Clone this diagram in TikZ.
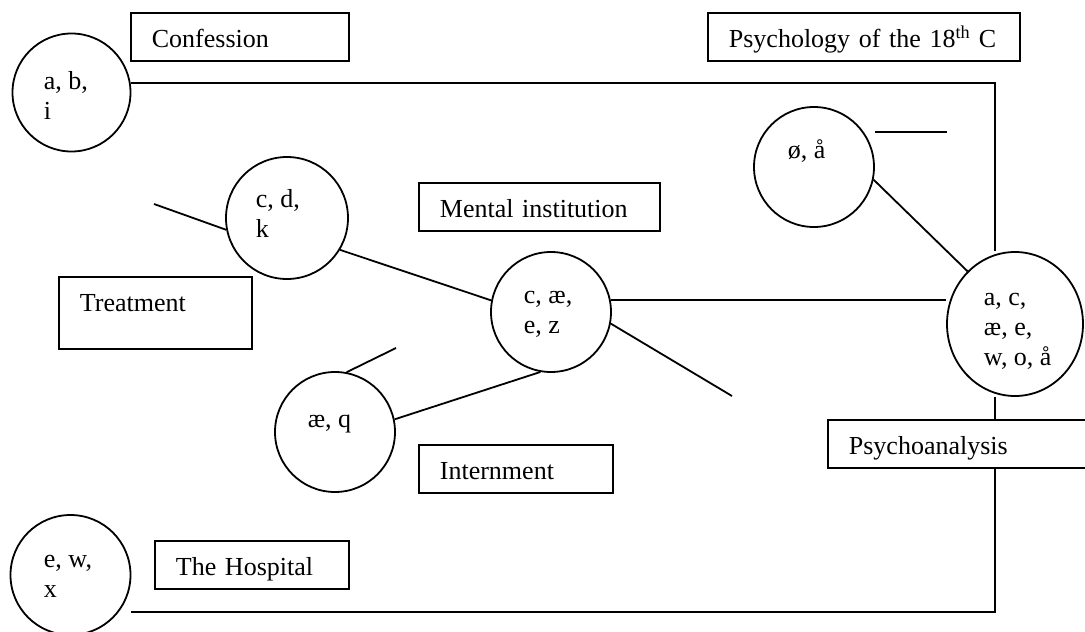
\documentclass[tikz,border=0pt]{standalone}
\usepackage{fontspec}
\setmainfont{Liberation Serif}
\usetikzlibrary{shapes.geometric,calc}
\begin{document}
\begin{tikzpicture}[x=1pt,y=-1pt,line width=1.8pt,
  bub/.style={circle,draw,inner sep=0pt,minimum size=#1},
  bub/.default=120pt,
  ctext/.style={anchor=base west,inner sep=0pt,align=left,font=\fontsize{26}{30}\selectfont},
  boxn/.style={draw,anchor=north west,inner xsep=21pt,inner ysep=0pt,
    text height=35pt,text depth=13pt,text width=#1,align=left,
    font=\fontsize{26}{30}\selectfont}]
\useasboundingbox (0,0) rectangle (1085,632);
\clip (0,0) rectangle (1085,632);
% circles
\node[bub=118pt] (abi) at (71.5,92.5) {};
\node[bub=122pt] (cdk) at (287,218) {};
\node[bub] (cae) at (551,312) {};
\node[bub] (oa) at (814,167) {};
\node[bub] (aeq) at (335,432) {};
\node[bub] (ewx) at (70.5,575) {};
\node[ellipse,draw,inner sep=0pt,minimum width=136pt,minimum height=144pt] (big) at (1015,324) {};
% circle texts (anchor = baseline of the last line)
\node[ctext] (abit) at (43,119) {a, b,\\i};
\node[ctext] (cdkt) at (255,237) {c, d,\\k};
\node[ctext] (caet) at (523,333) {c, æ,\\e, z};
\node[ctext] (oat) at (787,158) {ø, å};
\node[ctext] (aeqt) at (307,427) {æ, q};
\node[ctext] (ewxt) at (43,597) {e, w,\\x};
\node[ctext] (bigt) at (983,365) {a, c,\\æ, e,\\w, o, å};
% boxes
\node[boxn=176pt] (conf) at (130,12) {Confession};
\node[boxn=270pt] (psy) at (707,12) {Psychology of the 18\textsuperscript{th} C};
\node[boxn=199pt] (ment) at (418,182) {Mental institution};
\node[boxn=151pt,text depth=37pt] (treat) at (58,276) {Treatment};
\node[boxn=152pt] (intern) at (418,444) {Internment};
\node[boxn=152pt] (hosp) at (154,540) {The Hospital};
\node[boxn=221pt] (psa) at (827,419) {Psychoanalysis};
% free ends
\coordinate (cdkstub) at (154,204);
\coordinate (caestub) at (732,396);
\coordinate (aeqstub) at (396,348);
\coordinate (fl1) at (875,132);
\coordinate (fl2) at (947,132);
\coordinate (tr) at (995,83);
\coordinate (br) at (995,612);
% connectors
\draw (cdk.191) -- (cdkstub);
\draw (cdk.-31) -- (cae.169);
\draw (cae.11) -- (cae.11 -| big.west);
\draw (cae.-11) -- (caestub);
\draw (cae.-100) -- (aeq.12);
\draw (aeq.79) -- (aeqstub);
\draw (oa.-12) -- (big.132);
\draw (fl1) -- (fl2);
\draw (abi.9) -- (abi.9 -| tr) -- (tr |- big.north);
\draw (big.south -| tr) -- (tr |- psa.north);
\draw (psa.south -| tr) -- (br) -- (br -| ewx.east);
\end{tikzpicture}
\end{document}
